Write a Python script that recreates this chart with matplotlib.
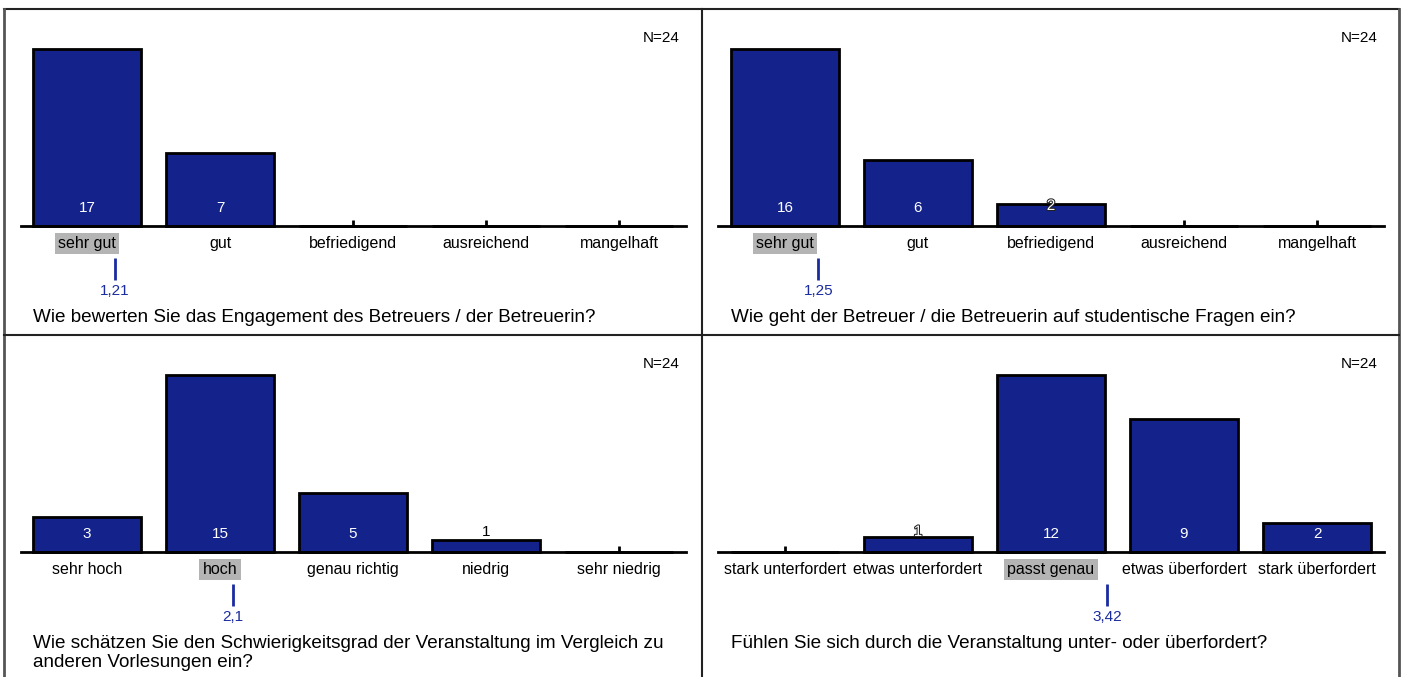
import matplotlib
matplotlib.use('Agg')
import matplotlib.pyplot as plt
import matplotlib.patheffects as pe

plt.rcParams['font.family'] = ['Liberation Sans', 'DejaVu Sans']

W, H = 1404, 677
BAR_COLOR = '#14238b'
MEAN_COLOR = '#1a2ca0'

# data, one set per panel
q1_labels = ['sehr gut', 'gut', 'befriedigend', 'ausreichend', 'mangelhaft']
q1_counts = [17, 7, 0, 0, 0]
q1_mean   = 1.21
q1_text   = 'Wie bewerten Sie das Engagement des Betreuers / der Betreuerin?'

q2_labels = ['sehr gut', 'gut', 'befriedigend', 'ausreichend', 'mangelhaft']
q2_counts = [16, 6, 2, 0, 0]
q2_mean   = 1.25
q2_text   = 'Wie geht der Betreuer / die Betreuerin auf studentische Fragen ein?'

q3_labels = ['sehr hoch', 'hoch', 'genau richtig', 'niedrig', 'sehr niedrig']
q3_counts = [3, 15, 5, 1, 0]
q3_mean   = 2.1
q3_text   = ('Wie schätzen Sie den Schwierigkeitsgrad der Veranstaltung im Vergleich zu\n'
             'anderen Vorlesungen ein?')

q4_labels = ['stark unterfordert', 'etwas unterfordert', 'passt genau',
             'etwas überfordert', 'stark überfordert']
q4_counts = [0, 1, 12, 9, 2]
q4_mean   = 3.42
q4_text   = 'Fühlen Sie sich durch die Veranstaltung unter- oder überfordert?'

N_TOTAL = 24

panels = [
    (4, 9, q1_labels, q1_counts, q1_mean, q1_text, True),
    (702, 9, q2_labels, q2_counts, q2_mean, q2_text, True),
    (4, 335, q3_labels, q3_counts, q3_mean, q3_text, False),
    (702, 335, q4_labels, q4_counts, q4_mean, q4_text, True),
]

fig = plt.figure(figsize=(W / 100, H / 100), dpi=100)

# frame lines of the 2x2 grid, in pixel coords
frame = fig.add_axes([0, 0, 1, 1])
frame.set_xlim(0, W)
frame.set_ylim(H, 0)
frame.axis('off')
frame.plot([4, 1399], [9, 9], color='#222222', lw=1.5)
frame.plot([4, 4], [9, H], color='#555555', lw=2)
frame.plot([702, 702], [9, H], color='#222222', lw=1.5)
frame.plot([1399, 1399], [9, H], color='#555555', lw=2)
frame.plot([4, 1399], [335, 335], color='#222222', lw=1.5)


def fig_rect(x0, y0, x1, y1):
    return [x0 / W, 1 - y1 / H, (x1 - x0) / W, (y1 - y0) / H]


for px, py, labels, counts, mean, question, outline in panels:
    base = py + 217
    ax = fig.add_axes(fig_rect(px + 16.5, py + 40, px + 681.5, base))
    xs = list(range(len(labels)))
    ax.bar(xs, counts, width=0.81, color=BAR_COLOR, edgecolor='black',
           linewidth=2, clip_on=False, zorder=2)
    ax.set_xlim(-0.5, 4.5)
    ax.set_ylim(0, max(counts))
    for s in ['top', 'left', 'right']:
        ax.spines[s].set_visible(False)
    ax.spines['bottom'].set_linewidth(2)
    ax.spines['bottom'].set_zorder(3)
    ax.set_yticks([])
    ax.set_xticks(xs)
    ax.set_xticklabels([])
    ax.tick_params(axis='x', direction='in', length=4, width=2, color='black')
    ax.patch.set_alpha(0)

    near = int(round(mean)) - 1
    for i, (lab, c) in enumerate(zip(labels, counts)):
        box = dict(boxstyle='square,pad=0.2', fc='#b4b4b4', ec='none') if i == near else None
        ax.annotate(lab, xy=(i, 0), xytext=(0, -22), textcoords='offset pixels',
                    ha='center', va='baseline', fontsize=11.5, bbox=box)
        if c == 0:
            continue
        small = c / max(counts) < 0.15
        kw = dict(xy=(i, 0), textcoords='offset pixels', ha='center',
                  va='baseline', fontsize=11, zorder=5)
        if not small:
            ax.annotate(str(c), xytext=(0, 14), color='white', **kw)
        elif outline:
            ax.annotate(str(c), xytext=(0, 16), color='white',
                        path_effects=[pe.withStroke(linewidth=1.5, foreground='#222222')],
                        **kw)
        else:
            ax.annotate(str(c), xytext=(0, 16), color='black', **kw)

    # mean marker: short vertical line under the axis plus value
    mx = mean - 1
    ax.annotate(f'{mean:g}'.replace('.', ','), xy=(mx, 0), xytext=(0, -69),
                textcoords='offset pixels', ha='center', va='baseline',
                fontsize=11, color=MEAN_COLOR, annotation_clip=False)
    x_pix = px + 16.5 + (mx + 0.5) / 5 * 665
    frame.plot([x_pix, x_pix], [base + 32, base + 54], color=MEAN_COLOR, lw=2,
               solid_capstyle='butt')

    frame.text(px + 29, py + 300, question, ha='left', va='top', fontsize=13.6,
               linespacing=1.12)
    frame.text(px + 676, py + 29, f'N={N_TOTAL}', ha='right', va='center', fontsize=11)

fig.savefig('out.png', dpi=100)
